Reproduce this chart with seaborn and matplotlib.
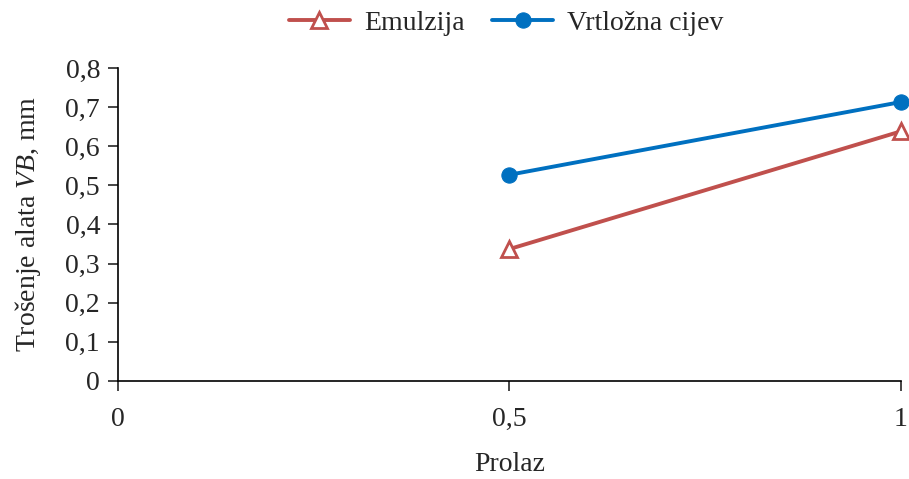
import pandas as pd
import numpy as np
import seaborn as sns
import matplotlib.pyplot as plt
from matplotlib.ticker import FuncFormatter

# data
prolaz = [0.5, 1.0]
emulzija = [0.337, 0.638]
vrtlozna = [0.527, 0.713]

sns.set_style("ticks")
plt.rcParams['font.family'] = ['Liberation Serif', 'DejaVu Serif']
plt.rcParams['mathtext.fontset'] = 'custom'
plt.rcParams['mathtext.it'] = 'Liberation Serif:italic'
plt.rcParams['mathtext.rm'] = 'Liberation Serif'

fig = plt.figure(figsize=(9.09, 4.79), dpi=100)
ax = fig.add_axes([0.130, 0.205, 0.861, 0.653])

red = '#C0504D'
blue = '#0070C0'

sns.lineplot(x=prolaz, y=emulzija, color=red, linewidth=2.8, marker='^',
             markersize=12, markerfacecolor='white', markeredgecolor=red,
             markeredgewidth=2, label='Emulzija', ax=ax, clip_on=False, zorder=3)
sns.lineplot(x=prolaz, y=vrtlozna, color=blue, linewidth=2.8, marker='o',
             markersize=11, markerfacecolor=blue, markeredgecolor=blue,
             label='Vrtložna cijev', ax=ax, clip_on=False, zorder=3)

ax.set_xlim(0, 1)
ax.set_ylim(0, 0.8)
ax.set_xticks([0, 0.5, 1])
ax.set_yticks(np.arange(0, 0.81, 0.1))
comma = FuncFormatter(lambda v, p: ('%g' % round(v, 2)).replace('.', ','))
ax.xaxis.set_major_formatter(comma)
ax.yaxis.set_major_formatter(comma)
ax.tick_params(axis='both', labelsize=20, length=7, width=1.2, direction='out', pad=6)
ax.tick_params(axis='x', pad=12)

for s in ['top', 'right']:
    ax.spines[s].set_visible(False)
for s in ['left', 'bottom']:
    ax.spines[s].set_linewidth(1.2)
    ax.spines[s].set_color('black')

ax.set_xlabel('Prolaz', fontsize=20, labelpad=14)
ax.set_ylabel('Trošenje alata $VB$, mm', fontsize=20, labelpad=16)

handles, labels = ax.get_legend_handles_labels()
ax.get_legend().remove()
fig.legend(handles, labels, loc='center', bbox_to_anchor=(0.557, 0.952),
           ncol=2, frameon=False, fontsize=20, handlelength=2.2,
           columnspacing=1.0, handletextpad=0.5)

fig.savefig('out.png', dpi=100)
